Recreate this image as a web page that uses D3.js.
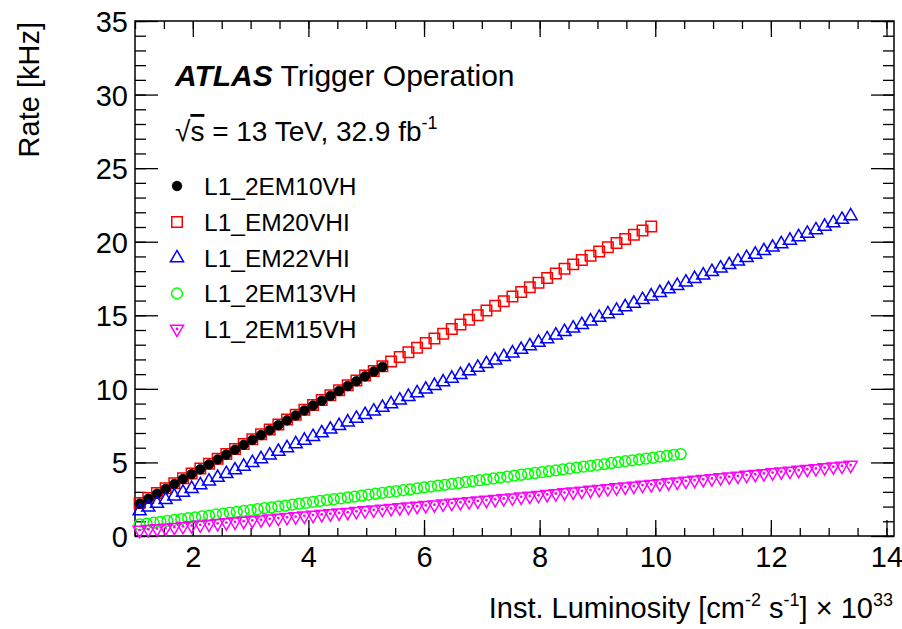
<!DOCTYPE html>
<html>
<head>
<meta charset="utf-8">
<script src="https://cdn.jsdelivr.net/npm/d3@7"></script>
<style>
  html, body { margin: 0; padding: 0; background: #fff; }
  svg { display: block; font-family: "Liberation Sans", Arial, Helvetica, sans-serif; }
</style>
</head>
<body>
<svg id="chart" width="902" height="629"></svg>
<script>
// Instantaneous luminosity bin centres [1e33 cm^-2 s^-1]
const lumiBins = [1.08,1.23,1.38,1.53,1.68,1.83,1.98,2.13,2.28,2.43,2.58,2.73,2.88,3.03,3.18,3.33,3.48,3.63,3.78,3.93,
  4.08,4.23,4.38,4.53,4.68,4.83,4.98,5.13,5.28,5.43,5.58,5.73,5.88,6.03,6.18,6.33,6.48,6.63,6.78,6.93,
  7.08,7.23,7.38,7.53,7.68,7.83,7.98,8.13,8.28,8.43,8.58,8.73,8.88,9.03,9.18,9.33,9.48,9.63,9.78,9.93,
  10.08,10.23,10.38,10.53,10.68,10.83,10.98,11.13,11.28,11.43,11.58,11.73,11.88,12.03,12.18,12.33,12.48,12.63,12.78,12.93,
  13.08,13.23,13.38];

// L1_2EM13VH uses a finer luminosity binning
const lumiBinsFine = [1.08,1.20,1.32,1.44,1.56,1.68,1.80,1.92,2.04,2.16,2.28,2.40,2.52,2.64,2.76,2.88,3.00,3.12,3.24,3.36,
  3.48,3.60,3.72,3.84,3.96,4.08,4.20,4.32,4.44,4.56,4.68,4.80,4.92,5.04,5.16,5.28,5.40,5.52,5.64,5.76,
  5.88,6.00,6.12,6.24,6.36,6.48,6.60,6.72,6.84,6.96,7.08,7.20,7.32,7.44,7.56,7.68,7.80,7.92,8.04,8.16,
  8.28,8.40,8.52,8.64,8.76,8.88,9.00,9.12,9.24,9.36,9.48,9.60,9.72,9.84,9.96,10.08,10.20,10.32,10.44];

// Trigger rates [kHz]
const rate2EM10VH = [2.20,2.53,2.87,3.20,3.53,3.87,4.20,4.53,4.86,5.20,5.53,5.86,6.20,6.53,6.86,7.19,7.53,7.86,8.19,8.53,
  8.86,9.19,9.52,9.86,10.19,10.52,10.85,11.17,11.49];

const rateEM20VHI = [2.25,2.58,2.92,3.25,3.58,3.92,4.25,4.58,4.91,5.25,5.58,5.91,6.25,6.58,6.91,7.24,7.58,7.91,8.24,8.58,
  8.91,9.24,9.57,9.91,10.24,10.57,10.90,11.22,11.54,11.86,12.17,12.49,12.80,13.12,13.43,13.75,14.06,14.38,14.69,15.01,
  15.32,15.64,15.95,16.27,16.58,16.90,17.21,17.53,17.84,18.16,18.46,18.75,19.04,19.33,19.62,19.91,20.19,20.48,20.76,21.04];

const rateEM22VHI = [1.70,1.95,2.21,2.46,2.71,2.96,3.22,3.47,3.72,3.97,4.23,4.48,4.73,4.98,5.24,5.49,5.74,5.99,6.25,6.50,
  6.75,7.00,7.25,7.49,7.74,7.99,8.24,8.48,8.73,8.98,9.23,9.47,9.72,9.97,10.22,10.46,10.71,10.96,11.21,11.45,
  11.70,11.94,12.18,12.43,12.67,12.91,13.15,13.39,13.64,13.88,14.12,14.36,14.60,14.85,15.09,15.33,15.57,15.81,16.06,16.30,
  16.54,16.78,17.01,17.25,17.49,17.72,17.96,18.20,18.43,18.67,18.91,19.14,19.38,19.62,19.85,20.09,20.33,20.56,20.80,21.04,
  21.27,21.51,21.75];

const rate2EM13VH = [0.78,0.84,0.90,0.96,1.03,1.09,1.15,1.21,1.27,1.33,1.39,1.46,1.52,1.58,1.64,1.70,1.76,1.82,1.89,1.95,
  2.01,2.07,2.13,2.19,2.25,2.32,2.38,2.44,2.50,2.56,2.62,2.68,2.74,2.81,2.87,2.93,2.99,3.05,3.11,3.17,
  3.24,3.30,3.36,3.42,3.48,3.54,3.60,3.67,3.73,3.79,3.85,3.91,3.97,4.03,4.10,4.16,4.22,4.28,4.34,4.40,
  4.46,4.53,4.59,4.65,4.71,4.77,4.83,4.89,4.96,5.02,5.08,5.14,5.20,5.26,5.32,5.39,5.45,5.51,5.57];

const rate2EM15VH = [0.40,0.45,0.50,0.55,0.60,0.66,0.71,0.76,0.81,0.86,0.91,0.96,1.01,1.06,1.11,1.17,1.22,1.27,1.32,1.37,
  1.42,1.47,1.52,1.57,1.62,1.68,1.73,1.78,1.83,1.88,1.93,1.98,2.03,2.08,2.13,2.19,2.24,2.29,2.34,2.39,
  2.44,2.49,2.55,2.60,2.66,2.72,2.77,2.83,2.89,2.95,3.00,3.06,3.12,3.17,3.23,3.29,3.34,3.40,3.46,3.51,
  3.57,3.63,3.68,3.74,3.80,3.85,3.91,3.97,4.03,4.08,4.14,4.20,4.25,4.31,4.37,4.42,4.48,4.54,4.59,4.65,
  4.71,4.76,4.82];

const triggerNames = ["L1_2EM10VH", "L1_EM20VHI", "L1_EM22VHI", "L1_2EM13VH", "L1_2EM15VH"];
const triggerColors = ["#000000", "#ff0000", "#0000ff", "#00ff00", "#ff00ff"];

const xTickValues = [2, 4, 6, 8, 10, 12, 14];
const yTickValues = [0, 5, 10, 15, 20, 25, 30, 35];

// Series table: marker kind, drawing order (red under black)
const series = [
  { name: triggerNames[1], color: triggerColors[1], marker: "square",  xs: lumiBins,     ys: rateEM20VHI },
  { name: triggerNames[0], color: triggerColors[0], marker: "disc",    xs: lumiBins,     ys: rate2EM10VH },
  { name: triggerNames[2], color: triggerColors[2], marker: "triUp",   xs: lumiBins,     ys: rateEM22VHI },
  { name: triggerNames[3], color: triggerColors[3], marker: "circle",  xs: lumiBinsFine, ys: rate2EM13VH },
  { name: triggerNames[4], color: triggerColors[4], marker: "triDown", xs: lumiBins,     ys: rate2EM15VH }
];
const legendOrder = ["disc", "square", "triUp", "circle", "triDown"];

const svg = d3.select("#chart");
const frame = { left: 135, right: 894, top: 21, bottom: 536 };

const x = d3.scaleLinear().domain([1, 14.13]).range([frame.left, frame.right]);
const y = d3.scaleLinear().domain([0, 35]).range([frame.bottom, frame.top]);

const tickFont = 29;

function minorValues(scale, step) {
  const [a, b] = scale.domain();
  const out = [];
  for (let v = Math.ceil(a / step) * step; v <= b + 1e-9; v += step) out.push(+v.toFixed(4));
  return out;
}

// Axes: ROOT-style inward ticks on all four sides
function drawAxis(axisFn, transform, scale, majors, minors, majorLen, minorLen, labels) {
  const gMinor = svg.append("g").attr("transform", transform)
    .call(axisFn(scale).tickValues(minors).tickSizeInner(-minorLen).tickSizeOuter(0).tickFormat(""));
  gMinor.select(".domain").remove();
  const gMajor = svg.append("g").attr("transform", transform)
    .call(axisFn(scale).tickValues(majors).tickSizeInner(-majorLen).tickSizeOuter(0)
      .tickPadding(labels ? 7 : 0).tickFormat(labels ? d3.format("d") : ""));
  gMajor.select(".domain").remove();
  [gMinor, gMajor].forEach(g => g.selectAll("line").attr("stroke", "#000").attr("stroke-width", 1.3));
  gMajor.selectAll("text").attr("font-size", tickFont).attr("fill", "#000")
    .attr("font-family", "Liberation Sans, Arial, sans-serif");
  return gMajor;
}

const xMinor = minorValues(x, 0.5);
const yMinor = minorValues(y, 1);

const gx = drawAxis(d3.axisBottom, `translate(0,${frame.bottom})`, x, xTickValues, xMinor, 16, 8, true);
gx.selectAll("text").attr("dy", "0.82em");
drawAxis(d3.axisTop, `translate(0,${frame.top})`, x, xTickValues, xMinor, 16, 8, false);
const gy = drawAxis(d3.axisLeft, `translate(${frame.left},0)`, y, yTickValues, yMinor, 23, 11, true);
gy.selectAll("text").attr("dy", "0.36em");
drawAxis(d3.axisRight, `translate(${frame.right},0)`, y, yTickValues, yMinor, 23, 11, false);

svg.append("rect")
  .attr("x", frame.left).attr("y", frame.top)
  .attr("width", frame.right - frame.left).attr("height", frame.bottom - frame.top)
  .attr("fill", "none").attr("stroke", "#000").attr("stroke-width", 1.5);

// Marker shapes
const markerShapes = {
  square:  d3.symbol().type(d3.symbolSquare).size(110)(),
  disc:    d3.symbol().type(d3.symbolCircle).size(72)(),
  circle:  d3.symbol().type(d3.symbolCircle).size(92)(),
  triUp:   d3.symbol().type(d3.symbolTriangle).size(74)(),
  triDown: d3.symbol().type(d3.symbolTriangle).size(74)()
};

function placeMarker(sel, kind, color) {
  sel.append("path")
    .attr("d", markerShapes[kind])
    .attr("transform", kind === "triDown" ? "rotate(180)" : null)
    .attr("fill", kind === "disc" ? color : "none")
    .attr("stroke", color)
    .attr("stroke-width", kind === "disc" ? 0.8 : 1.5);
  if (kind === "triDown") {
    sel.append("circle").attr("r", 1.4).attr("fill", color);
  }
}

const plot = svg.append("g");
series.forEach(s => {
  const pts = s.ys.map((v, i) => ({ lx: s.xs[i], r: v }));
  plot.append("g").selectAll("g").data(pts).join("g")
    .attr("transform", d => `translate(${x(d.lx)},${y(d.r)})`)
    .each(function () { placeMarker(d3.select(this), s.marker, s.color); });
});

// Labels
const txt = (xp, yp, size) => svg.append("text").attr("x", xp).attr("y", yp)
  .attr("font-size", size).attr("fill", "#000");

const atlas = txt(175, 86, 30);
atlas.append("tspan").attr("font-weight", "bold").attr("font-style", "italic").text("ATLAS");
atlas.append("tspan").text(" Trigger Operation");

const energy = txt(175, 141, 28);
energy.append("tspan").text("√");
energy.append("tspan").attr("text-decoration", "overline").text("s");
energy.append("tspan").text(" = 13 TeV, 32.9 fb");
energy.append("tspan").attr("font-size", 18).attr("dy", -12).text("-1");

// Legend
const legendY = [186, 222, 258, 293.5, 329];
legendOrder.forEach((kind, i) => {
  const s = series.find(d => d.marker === kind);
  const g = svg.append("g").attr("transform", `translate(177,${legendY[i]})`);
  placeMarker(g, kind, s.color);
  svg.append("text").attr("x", 204).attr("y", legendY[i]).attr("dy", "0.36em")
    .attr("font-size", 24.5).attr("fill", "#000").text(s.name);
});

// Axis titles
svg.append("text")
  .attr("transform", "translate(39,22) rotate(-90)")
  .attr("text-anchor", "end").attr("font-size", 29).attr("fill", "#000")
  .text("Rate [kHz]");

const xt = svg.append("text").attr("x", 893).attr("y", 618)
  .attr("text-anchor", "end").attr("font-size", 29).attr("fill", "#000");
xt.append("tspan").text("Inst. Luminosity [cm");
xt.append("tspan").attr("font-size", 18).attr("dy", -12).text("-2");
xt.append("tspan").attr("dy", 12).text(" s");
xt.append("tspan").attr("font-size", 18).attr("dy", -12).text("-1");
xt.append("tspan").attr("dy", 12).text("] × 10");
xt.append("tspan").attr("font-size", 18).attr("dy", -12).text("33");
</script>
</body>
</html>
